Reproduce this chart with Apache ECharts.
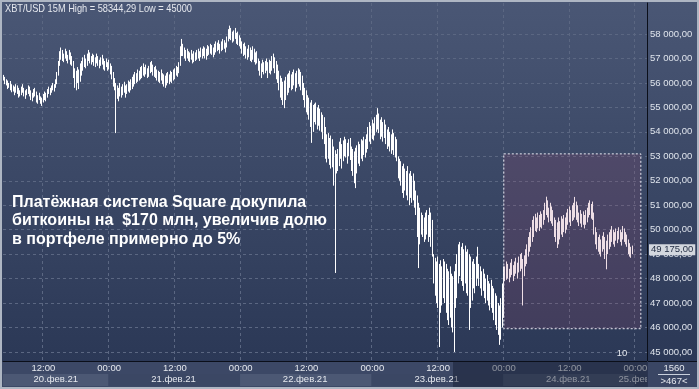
<!DOCTYPE html>
<html><head><meta charset="utf-8">
<script src="https://cdn.jsdelivr.net/npm/echarts@6/dist/echarts.min.js"></script>
<style>html,body{margin:0;padding:0;background:#2b3856}#c{width:699px;height:389px}</style>
</head><body><div id="c"></div>
<script>
// ---- data ----
const startTime = Date.UTC(2021, 1, 20, 4, 45); // first 15M bar
const slotCount = 470;                            // bars + empty right shift
const monthsRu = ['янв','фев','мар','апр','май','июн','июл','авг','сен','окт','ноя','дек'];
const highs = [
56330,56250,56150,56100,56000,56080,55950,55900,55850,55950,
55900,55800,55700,55850,55950,55800,55700,55750,55900,55850,
55700,55600,55750,55800,55650,55500,55600,55450,55400,55550,
55650,55600,55750,55850,55800,55900,56000,55950,56150,56450,
56900,57300,57450,57350,57200,57400,57300,57150,57350,57250,
57100,56900,56600,56500,56650,56550,56800,56900,57050,57150,
57000,57200,57350,57250,57100,57200,57150,57050,57200,57100,
56950,57050,57150,57000,56900,57000,56850,56950,56800,56700,
56450,56200,56000,55900,55800,56000,55850,55950,56050,55900,
55950,56100,56050,56150,56250,56350,56450,56400,56550,56500,
56650,56700,56800,56650,56750,56600,56700,56850,56900,56750,
56650,56700,56550,56500,56450,56550,56400,56350,56300,56400,
56450,56350,56500,56450,56550,56600,56700,56650,56850,57500,
57800,57600,57450,57350,57400,57300,57250,57350,57200,57300,
57250,57350,57400,57300,57450,57400,57500,57450,57400,57550,
57500,57600,57550,57450,57600,57700,57650,57750,57600,57700,
57800,57750,57650,57900,58200,58344.29,58250,58100,58150,58250,
58050,58100,57950,57850,57700,57600,57650,57500,57400,57550,
57450,57350,57500,57400,57250,57300,57000,56900,56800,56950,
56850,56900,57000,56850,56950,56900,57100,57200,57050,56900,
56750,56500,56300,56200,56050,56100,56250,56350,56400,56500,
56350,56450,56550,56400,56500,56600,56550,56450,56300,56000,
55800,55700,55500,55400,55200,55300,55100,55150,55200,55000,
55100,54950,54800,54700,54600,54200,53900,53950,53750,53850,
53700,53400,53250,53100,53300,53600,53750,53500,53650,53800,
53700,53550,53700,53750,53400,53300,53200,53350,53450,53600,
53500,53700,53650,53800,53700,53900,54200,54400,54250,54500,
54350,54600,54700,54970,54750,54500,54600,54400,54500,54300,
54100,54200,54000,53900,54100,53950,53800,53700,53000,52900,
52800,52600,52700,52500,52400,52600,52300,52400,52200,52300,
52000,51600,51400,51100,50900,50700,50600,50500,50700,50800,
50600,50900,50700,50400,49000,48850,48700,48900,48600,48750,
48500,48800,48700,48600,48400,48300,48500,48200,48100,48300,
48600,49000,49400,49500,49300,49450,49200,49350,49100,49200,
49000,48900,48700,48800,48600,48900,49300,48600,48500,48300,
48400,48200,48000,48150,47900,47800,47950,47700,47600,47400,
47300,47000,46900,47200,47800,48500,48500,48700,48600,48400,
48650,48800,48550,48700,48850,48650,48900,49000,49050,48800,
48950,49200,49400,49700,49900,50100,50400,50550,50650,50500,
50700,50600,50750,50650,50800,51100,51350,51200,50900,51100,
50950,50800,50500,50400,50300,50500,50350,50550,50450,50600,
50500,50700,50850,50950,50800,51000,51100,51340,51150,51000,
50700,50800,50650,50750,50600,50800,50900,51100,51200,51050,
51150,50700,50100,49900,49700,49800,49600,49750,49900,49700,
49550,49800,49900,50000,50150,50000,49900,50050,49950,50100,
50000,49900,50150,50050,49900,49800,49600,49450,49300,49350
];
const lows = [
56100,55950,55900,55750,55800,55700,55620,55650,55500,55600,
55550,55400,55450,55500,55600,55450,55350,55500,55550,55450,
55300,55250,55400,55450,55200,55150,55300,55150,55060,55200,
55300,55250,55400,55550,55500,55600,55700,55650,55800,55950,
56300,56700,56950,56900,56850,57000,56900,56800,56950,56750,
56700,56200,55800,55700,56000,55750,56050,56300,56500,56650,
56600,56700,56900,56800,56750,56850,56700,56650,56800,56700,
56600,56700,56750,56550,56500,56650,56500,56550,56350,56150,
55850,55700,53950,55350,55250,55450,55400,55500,55600,55400,
55550,55650,55600,55700,55750,55850,55950,56000,56050,56100,
56150,56200,56300,56250,56350,56200,56250,56400,56450,56300,
56250,56200,56100,56050,56000,56100,55950,55850,55800,55900,
56000,55950,56050,56000,56100,56150,56300,56250,56400,56700,
57100,57100,57000,56900,57000,56900,56850,56950,56800,56850,
56900,56950,57000,56900,57050,57000,57100,57000,56950,57100,
57150,57200,57150,57050,57150,57250,57300,57350,57200,57300,
57350,57400,57250,57450,57700,57800,57750,57650,57700,57800,
57600,57550,57500,57400,57200,57100,57150,57000,56950,57050,
56900,56850,56950,56850,56750,56800,56500,56300,56200,56450,
56350,56400,56500,56200,56400,56350,56500,56600,56400,56150,
56000,55700,55400,55300,55100,54970,55300,55500,55600,55800,
55700,55750,55900,55650,55800,55950,55850,55700,55500,55300,
55000,54800,54700,54500,54200,53550,54000,54400,54300,54100,
54250,54050,54000,53700,53500,52900,52750,52900,52650,52500,
52550,51800,48230,52300,52400,52600,52900,52500,52800,53000,
52950,52700,53000,52850,52400,52200,51900,51700,52300,52700,
52600,52900,52800,53050,52950,53150,53300,53600,53500,53700,
53650,53850,54000,54100,53950,53700,53800,53600,53750,53500,
53300,53400,53200,53100,53250,53050,52950,52800,52100,52000,
51800,51500,51300,51600,51400,51200,51000,51300,51100,51200,
50900,50600,49700,48430,49400,49800,49700,49500,49600,49800,
49500,49700,49300,48900,47800,47300,47000,46800,45200,46600,
46900,47200,47000,46600,46300,46100,46400,46000,45800,45000,
46800,47200,47800,48100,47900,47700,47500,47800,47400,47300,
45900,46800,47100,47600,47400,47700,48000,47700,47600,47300,
47500,47200,47000,47100,46900,46700,46800,46600,46300,46100,
45900,45700,45290,45500,46000,46400,47900,47950,48000,47850,
48050,48150,47900,48100,48200,48000,48250,48300,48400,46900,
48100,48500,48600,48900,49100,49300,49500,49700,49950,49900,
50050,49950,50100,50050,50200,50400,50600,50500,50300,50350,
50250,50150,49700,49500,49250,49400,49600,49800,49700,49900,
49850,50000,50200,50300,50150,50350,50400,50500,50400,50300,
50150,50250,50100,50200,50050,50200,50300,50500,50600,50450,
50400,49800,49400,49200,49100,49000,48900,49100,49200,48800,
48380,49000,49200,49300,49500,49400,49300,49550,49450,49600,
49500,49350,49600,49500,49400,49300,49000,48900,48850,49000
];
const lastPrice = 49175;
const lastPriceText = '49 175,00';
const titleText = 'XBT/USD 15M High = 58344,29 Low = 45000';
const noteLines = ['Платёжная система Square докупила', 'биткоины на  $170 млн, увеличив долю', 'в портфеле примерно до 5%'];
const boxFromIdx = 365, boxToIdx = 465, boxTop = 53100, boxBottom = 45950;
const yLabelMin = 45000, yLabelMax = 58000, yStep = 1000;
const yMin = 44630, yMax = 59270;
const panelTexts = ['1560', '>467<'];
const cornerText = '10';

// ---- build ----
const pad = n => (n < 10 ? '0' : '') + n;
const categories = [];
for (let i = 0; i < slotCount; i++) {
  const d = new Date(startTime + i * 900000);
  categories.push(d.getUTCFullYear() + '-' + pad(d.getUTCMonth() + 1) + '-' + pad(d.getUTCDate()) + ' ' + pad(d.getUTCHours()) + ':' + pad(d.getUTCMinutes()));
}
const ohlc = highs.map((h, i) => [lows[i], h, lows[i], h]);
const isHalfDay = v => v.endsWith(' 00:00') || v.endsWith(' 12:00');
const isMidnight = v => v.endsWith(' 00:00');
const dateIdx = new Set();
{
  let first = 0;
  for (let i = 1; i <= slotCount; i++) {
    if (i === slotCount || categories[i].slice(0, 10) !== categories[first].slice(0, 10)) {
      dateIdx.add(Math.floor((first + i - 1) / 2));
      first = i;
    }
  }
}
const dateLabel = v => v.slice(8, 10) + '.' + monthsRu[parseInt(v.slice(5, 7), 10) - 1] + '.' + v.slice(2, 4);
const priceFmt = v => { const s = String(Math.round(v)); return s.slice(0, s.length - 3) + ' ' + s.slice(-3) + ',00'; };

const FONT = '"Liberation Sans", Arial, sans-serif';
const chart = echarts.init(document.getElementById('c'), null, {renderer: 'canvas'});
const option = {
  animation: false,
  textStyle: {fontFamily: FONT},
  title: [
    {text: noteLines.join('\n'), left: 12, top: 193, padding: 0, textStyle: {fontSize: 16, fontWeight: 'bold', color: '#ffffff', lineHeight: 18.5, fontFamily: FONT}}
  ],
  grid: [
    {left: 3, right: 52, top: 3, bottom: 28, outerBoundsMode: 'none'},
    {left: 3, right: 52, top: 34, bottom: 37, outerBoundsMode: 'none'},
    {left: 3, right: 52, top: 374, height: 12, outerBoundsMode: 'none'}
  ],
  xAxis: [
    {type: 'category', gridIndex: 0, data: categories, boundaryGap: true,
     axisLine: {show: true, onZero: false, lineStyle: {color: '#0b0f1a', width: 1}},
     axisTick: {show: false},
     axisLabel: {interval: (i, v) => isHalfDay(v), formatter: v => v.slice(11), margin: 2, color: '#e6e9ef', fontSize: 9.5, fontFamily: FONT},
     splitLine: {show: true, interval: (i, v) => isHalfDay(v), lineStyle: {color: '#5b6782', width: 1, type: [3, 3]}}},
    {type: 'value', gridIndex: 1, show: false, min: 0, max: 1},
    {type: 'category', gridIndex: 2, data: categories, position: 'top', boundaryGap: true,
     axisLine: {show: false}, axisTick: {show: false}, splitLine: {show: false},
     axisLabel: {inside: true, interval: i => dateIdx.has(i), formatter: dateLabel, margin: 0, color: '#e6e9ef', fontSize: 9.5, fontFamily: FONT},
     splitArea: {show: true, interval: (i, v) => isMidnight(v), areaStyle: {color: ['#4c5874', '#3b4764']}}}
  ],
  yAxis: [
    {type: 'value', gridIndex: 0, min: yMin, max: yMax, position: 'right',
     axisLine: {show: true, lineStyle: {color: '#0b0f1a', width: 1}}, axisTick: {show: false}, axisLabel: {show: false}, splitLine: {show: false}},
    {type: 'value', gridIndex: 1, min: yLabelMin, max: yLabelMax, interval: yStep, position: 'right',
     axisLine: {show: false}, axisTick: {show: false},
     axisLabel: {margin: 3, formatter: priceFmt, color: '#dfe4ec', fontSize: 9.5, fontFamily: FONT},
     splitLine: {show: true, lineStyle: {color: '#5b6782', width: 1, type: [3, 3]}}},
    {type: 'value', gridIndex: 2, show: false}
  ],
  series: [{
    type: 'candlestick', xAxisIndex: 0, yAxisIndex: 0, data: ohlc, barWidth: 0.1, barMinWidth: 0.1,
    itemStyle: {color: '#ffffff', color0: '#ffffff', borderColor: '#ffffff', borderColor0: '#ffffff', borderWidth: 1},
    markArea: {silent: true, z: 3, label: {show: false},
      itemStyle: {color: 'rgba(160,70,110,0.18)', borderColor: '#e9e9f2', borderWidth: 1, borderType: [2, 2]},
      data: [[{xAxis: categories[boxFromIdx], yAxis: boxTop}, {xAxis: categories[boxToIdx], yAxis: boxBottom}]]},
    markLine: {silent: true, symbol: 'none', lineStyle: {color: 'transparent', width: 0},
      label: {show: true, position: 'end', distance: 2, formatter: lastPriceText, backgroundColor: '#d3d7de', color: '#1f2a40', padding: [1, 2, 0, 2], fontSize: 9.5, fontFamily: FONT},
      data: [{yAxis: lastPrice}]}
  }],
  graphic: {elements: [
    {type: 'rect', z: -100, shape: {x: 0, y: 0, width: 699, height: 361},
     style: {fill: {type: 'linear', x: 0, y: 0, x2: 0, y2: 1, colorStops: [{offset: 0, color: '#4a5775'}, {offset: 1, color: '#2b3856'}]}}},
    {type: 'rect', z: -100, shape: {x: 0, y: 361, width: 699, height: 28}, style: {fill: '#3c4866'}},
    {type: 'text', z: 5, x: 5, y: 9, scaleX: 0.84, style: {text: titleText, fill: '#e6e9ef', font: '11px ' + FONT, align: 'left', verticalAlign: 'middle'}},
    {type: 'rect', z: 50, shape: {x: 453, y: 362, width: 194, height: 25}, style: {fill: 'rgba(16,24,42,0.42)'}},
    {type: 'rect', z: 60, shape: {x: 647, y: 361, width: 52, height: 28}, style: {fill: '#3a4664'}},
    {type: 'line', z: 61, shape: {x1: 647, y1: 361.5, x2: 699, y2: 361.5}, style: {stroke: '#0b0f1a', lineWidth: 1}},
    {type: 'line', z: 61, shape: {x1: 647.5, y1: 361, x2: 647.5, y2: 389}, style: {stroke: '#2a3450', lineWidth: 1}},
    {type: 'line', z: 61, shape: {x1: 658, y1: 374.5, x2: 690, y2: 374.5}, style: {stroke: '#c9d0dc', lineWidth: 1}},
    {type: 'text', z: 62, x: 674, y: 368, style: {text: panelTexts[0], fill: '#e6e9ef', font: '9.5px ' + FONT, align: 'center', verticalAlign: 'middle'}},
    {type: 'text', z: 62, x: 674, y: 381, style: {text: panelTexts[1], fill: '#e6e9ef', font: '9.5px ' + FONT, align: 'center', verticalAlign: 'middle'}},
    {type: 'text', z: 10, x: 622, y: 353, style: {text: cornerText, fill: '#e6e9ef', font: '9.5px ' + FONT, align: 'center', verticalAlign: 'middle'}},
    {type: 'rect', z: 200, shape: {x: 1, y: 1, width: 697, height: 387}, style: {fill: null, stroke: '#aeb6c3', lineWidth: 2}}
  ]}
};
chart.setOption(option);
</script>
</body></html>
